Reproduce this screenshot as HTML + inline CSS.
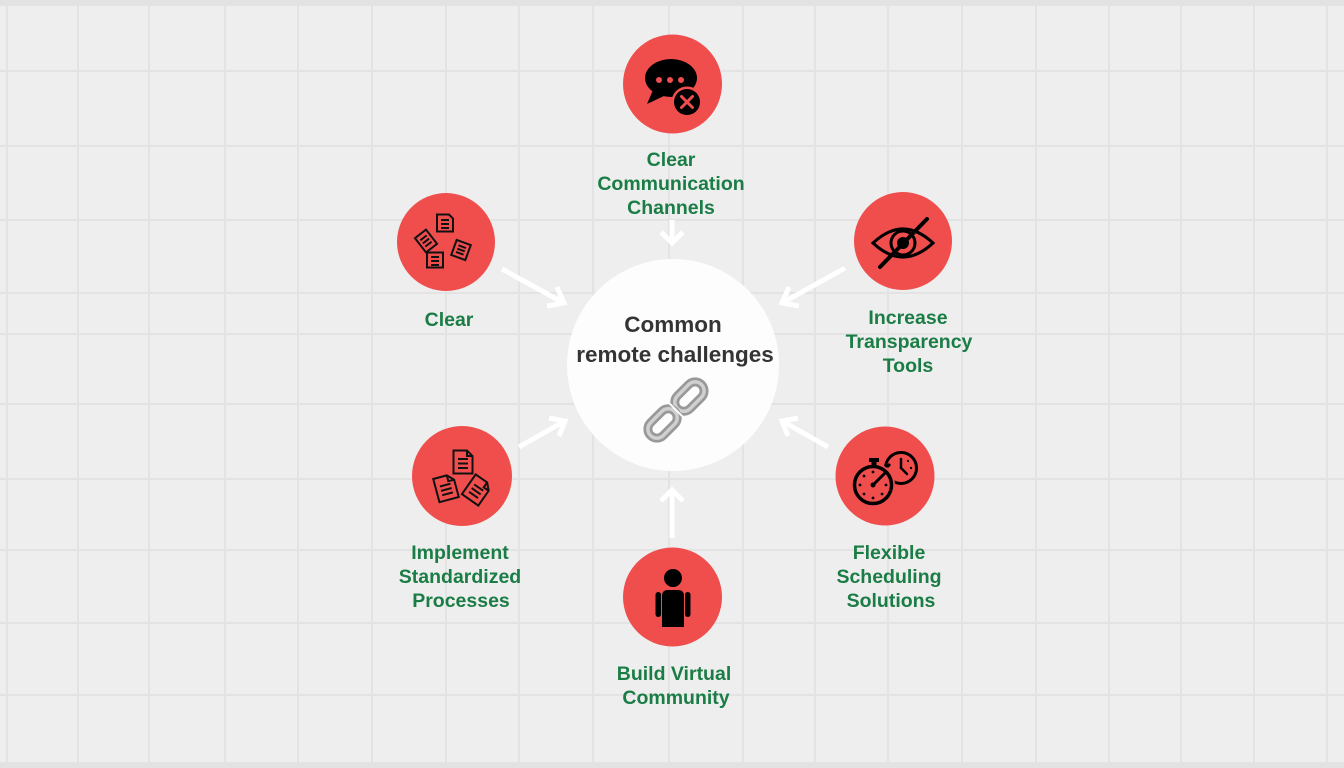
<!DOCTYPE html>
<html>
<head>
<meta charset="utf-8">
<style>
  html,body{margin:0;padding:0;background:#eeeeee;}
  svg{display:block;}
  .lbl{font-family:"Liberation Sans",Arial,sans-serif;font-weight:bold;font-size:19.5px;fill:#1b7d46;text-anchor:middle;}
  .ctr{font-family:"Liberation Sans",Arial,sans-serif;font-weight:bold;font-size:22.5px;fill:#343434;text-anchor:middle;}
</style>
</head>
<body>
<svg width="1344" height="768" viewBox="0 0 1344 768" xmlns="http://www.w3.org/2000/svg">
  <rect x="0" y="0" width="1344" height="768" fill="#eeeeee"/>
  <!-- grid -->
  <g stroke="#e3e3e3" stroke-width="2">
    <line x1="7" y1="0" x2="7" y2="768"/>
    <line x1="78" y1="0" x2="78" y2="768"/>
    <line x1="149" y1="0" x2="149" y2="768"/>
    <line x1="225" y1="0" x2="225" y2="768"/>
    <line x1="298" y1="0" x2="298" y2="768"/>
    <line x1="372" y1="0" x2="372" y2="768"/>
    <line x1="446" y1="0" x2="446" y2="768"/>
    <line x1="519" y1="0" x2="519" y2="768"/>
    <line x1="593" y1="0" x2="593" y2="768"/>
    <line x1="669" y1="0" x2="669" y2="768"/>
    <line x1="743" y1="0" x2="743" y2="768"/>
    <line x1="815" y1="0" x2="815" y2="768"/>
    <line x1="888" y1="0" x2="888" y2="768"/>
    <line x1="962" y1="0" x2="962" y2="768"/>
    <line x1="1036" y1="0" x2="1036" y2="768"/>
    <line x1="1109" y1="0" x2="1109" y2="768"/>
    <line x1="1181" y1="0" x2="1181" y2="768"/>
    <line x1="1254" y1="0" x2="1254" y2="768"/>
    <line x1="1327" y1="0" x2="1327" y2="768"/>
    <line x1="0" y1="71" x2="1344" y2="71"/>
    <line x1="0" y1="146" x2="1344" y2="146"/>
    <line x1="0" y1="220" x2="1344" y2="220"/>
    <line x1="0" y1="293" x2="1344" y2="293"/>
    <line x1="0" y1="334" x2="1344" y2="334"/>
    <line x1="0" y1="404" x2="1344" y2="404"/>
    <line x1="0" y1="479" x2="1344" y2="479"/>
    <line x1="0" y1="550" x2="1344" y2="550"/>
    <line x1="0" y1="623" x2="1344" y2="623"/>
    <line x1="0" y1="695" x2="1344" y2="695"/>
  </g>
  <rect x="0" y="0" width="1344" height="6" fill="#e3e3e3"/>
  <rect x="0" y="762" width="1344" height="6" fill="#e3e3e3"/>

  <!-- center circle -->
  <circle cx="673" cy="365" r="106" fill="#fdfdfd"/>
  <text class="ctr" x="673" y="332">Common</text>
  <text class="ctr" x="675" y="362">remote challenges</text>
  <!-- link icon -->
  <g transform="rotate(-45 676 410)">
    <rect x="678" y="401" width="34" height="18" rx="9" fill="none" stroke="#999999" stroke-width="9"/>
    <rect x="678" y="401" width="34" height="18" rx="9" fill="none" stroke="#d0d0d0" stroke-width="3.5"/>
    <rect x="640" y="401" width="34" height="18" rx="9" fill="none" stroke="#999999" stroke-width="9"/>
    <rect x="640" y="401" width="34" height="18" rx="9" fill="none" stroke="#d0d0d0" stroke-width="3.5"/>
    <line x1="676" y1="396" x2="676" y2="424" stroke="#fdfdfd" stroke-width="2"/>
  </g>

  <!-- arrows -->
  <g stroke="#ffffff" stroke-width="5" fill="none" stroke-linecap="butt" stroke-linejoin="miter">
    <line x1="672" y1="220" x2="672" y2="242"/>
    <polyline points="661,232 672,243 683,232"/>
    <line x1="502" y1="269" x2="562" y2="302"/>
    <polyline points="557,287 564,303 547,306"/>
    <line x1="845" y1="268" x2="784" y2="302"/>
    <polyline points="789,287 782,303 799,306"/>
    <line x1="519" y1="447" x2="563" y2="422"/>
    <polyline points="549,418 565,421 559,436"/>
    <line x1="828" y1="447" x2="784" y2="422"/>
    <polyline points="798,418 782,421 788,436"/>
    <line x1="672" y1="538" x2="672" y2="491"/>
    <polyline points="661,501 672,490 683,501"/>
  </g>

  <!-- red nodes -->
  <g fill="#ef4e4d">
    <circle cx="672.5" cy="84" r="49.5"/>
    <circle cx="446" cy="242" r="49"/>
    <circle cx="903" cy="241" r="49"/>
    <circle cx="462" cy="476" r="50"/>
    <circle cx="885" cy="476" r="49.5"/>
    <circle cx="672.5" cy="597" r="49.5"/>
  </g>

  <!-- icon: speech bubble with x -->
  <ellipse cx="671" cy="78" rx="26" ry="19" fill="#000"/>
  <polygon points="653,90 647,104 666,95" fill="#000"/>
  <circle cx="659" cy="80" r="3" fill="#ef4e4d"/>
  <circle cx="670" cy="80" r="3" fill="#ef4e4d"/>
  <circle cx="681" cy="80" r="3" fill="#ef4e4d"/>
  <circle cx="687" cy="102" r="15.5" fill="#ef4e4d"/>
  <circle cx="687" cy="102" r="13" fill="#000"/>
  <g stroke="#ef4e4d" stroke-width="3" stroke-linecap="round">
    <line x1="681.5" y1="96.5" x2="692.5" y2="107.5"/>
    <line x1="692.5" y1="96.5" x2="681.5" y2="107.5"/>
  </g>

  <!-- icon: clear (4 small docs) -->
  <g fill="none" stroke="#111" stroke-width="2">
    <g transform="translate(445,223)">
      <path d="M-8,-8.5 H4 L8,-4.5 V8.5 H-8 Z"/>
      <path d="M-4,-3 H4 M-4,1 H4 M-4,5 H4"/>
    </g>
    <g transform="translate(426,241) rotate(-38)">
      <path d="M-7,-9 H7 V9 H-7 Z"/>
      <path d="M-4,-4 H4 M-4,0 H4 M-4,4 H4"/>
    </g>
    <g transform="translate(461,250) rotate(20)">
      <path d="M-7.5,-8 H7.5 V8 H-7.5 Z"/>
      <path d="M-4,-3.5 H4 M-4,0 H4 M-4,3.5 H4"/>
    </g>
    <g transform="translate(435,260)">
      <path d="M-8,-7.5 H8 V7.5 H-8 Z"/>
      <path d="M-4,-3 H4 M-4,1 H4 M-4,5 H4"/>
    </g>
  </g>

  <!-- icon: eye with slash -->
  <g fill="none" stroke="#000" stroke-width="3">
    <path d="M873,243 Q903,215 933,243 Q903,271 873,243 Z"/>
    <circle cx="903" cy="243" r="12"/>
  </g>
  <circle cx="903" cy="243" r="6" fill="#000"/>
  <line x1="927" y1="219" x2="880" y2="267" stroke="#000" stroke-width="4" stroke-linecap="round"/>

  <!-- icon: standardized docs -->
  <g fill="none" stroke="#111" stroke-width="2">
    <g transform="translate(463,462)">
      <path d="M-9.5,-11.5 H4 L9.5,-6 V11.5 H-9.5 Z"/>
      <path d="M4,-11.5 V-6 H9.5"/>
      <path d="M-5,-3 H5 M-5,1.5 H5 M-5,6 H5"/>
    </g>
    <g transform="translate(446,488) rotate(-15)">
      <path d="M-10,-12 H4 L10,-6 V12 H-10 Z"/>
      <path d="M4,-12 V-6 H10"/>
      <path d="M-5.5,-3 H5.5 M-5.5,1.5 H5.5 M-5.5,6 H5.5"/>
    </g>
    <g transform="translate(477,490) rotate(35)">
      <path d="M-10,-12 H4 L10,-6 V12 H-10 Z"/>
      <path d="M4,-12 V-6 H10"/>
      <path d="M-5.5,-3 H5.5 M-5.5,1.5 H5.5 M-5.5,6 H5.5"/>
    </g>
  </g>

  <!-- icon: stopwatch + clock -->
  <circle cx="901" cy="468" r="15.5" fill="none" stroke="#000" stroke-width="3"/>
  <g stroke="#000" stroke-width="2.5" stroke-linecap="round">
    <line x1="901" y1="468" x2="901" y2="459"/>
    <line x1="901" y1="468" x2="907" y2="474"/>
  </g>
  <g fill="#000">
    <circle cx="911" cy="468" r="1.2"/>
    <circle cx="908" cy="461" r="1.1"/>
  </g>
  <circle cx="873" cy="485" r="22" fill="#ef4e4d"/>
  <circle cx="873" cy="485" r="18.5" fill="none" stroke="#000" stroke-width="3.5"/>
  <rect x="869" y="458" width="10" height="4" fill="#000"/>
  <rect x="871.5" y="461" width="5" height="5" fill="#000"/>
  <line x1="887" y1="467" x2="890" y2="464" stroke="#000" stroke-width="3"/>
  <line x1="873" y1="485" x2="884" y2="474" stroke="#000" stroke-width="3" stroke-linecap="round"/>
  <circle cx="873" cy="485" r="2.5" fill="#000"/>
  <g fill="#000">
    <circle cx="873" cy="472" r="1.4"/>
    <circle cx="873" cy="498" r="1.4"/>
    <circle cx="860" cy="485" r="1.4"/>
    <circle cx="886" cy="485" r="1.4"/>
    <circle cx="864" cy="476" r="1.4"/>
    <circle cx="882" cy="494" r="1.4"/>
    <circle cx="864" cy="494" r="1.4"/>
  </g>

  <!-- icon: person -->
  <circle cx="673" cy="578" r="9" fill="#000"/>
  <path d="M662,596 Q662,590 668,590 H678 Q684,590 684,596 V627 H662 Z" fill="#000"/>
  <rect x="655.5" y="592" width="5.5" height="25" rx="2.7" fill="#000"/>
  <rect x="685" y="592" width="5.5" height="25" rx="2.7" fill="#000"/>

  <!-- labels -->
  <text class="lbl" x="671" y="166">Clear</text>
  <text class="lbl" x="671" y="190">Communication</text>
  <text class="lbl" x="671" y="214">Channels</text>

  <text class="lbl" x="449" y="326">Clear</text>

  <text class="lbl" x="908" y="324">Increase</text>
  <text class="lbl" x="909" y="348">Transparency</text>
  <text class="lbl" x="908" y="372">Tools</text>

  <text class="lbl" x="460" y="559">Implement</text>
  <text class="lbl" x="460" y="583">Standardized</text>
  <text class="lbl" x="461" y="607">Processes</text>

  <text class="lbl" x="889" y="559">Flexible</text>
  <text class="lbl" x="889" y="583">Scheduling</text>
  <text class="lbl" x="891" y="607">Solutions</text>

  <text class="lbl" x="674" y="680">Build Virtual</text>
  <text class="lbl" x="676" y="704">Community</text>
</svg>
</body>
</html>
